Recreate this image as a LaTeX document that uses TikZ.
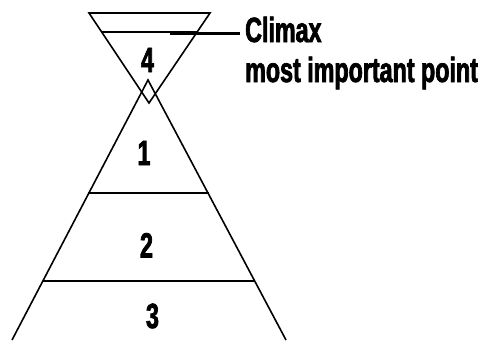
\documentclass[tikz,border=0pt]{standalone}
\usepackage{fontspec}
\newfontfamily\narrowfont[FakeStretch=0.665, FakeBold=2]{Liberation Sans Bold}
\usetikzlibrary{calc}

\begin{document}
\begin{tikzpicture}[
    x=1pt, y=-1pt,
    edge/.style={line width=1.6pt, line join=miter},
    band/.style={line width=2.8pt},
    num/.style={font=\narrowfont\fontsize{35}{40}\selectfont, inner sep=0pt, anchor=base},
    lab/.style={font=\narrowfont\fontsize{35}{40}\selectfont, inner sep=0pt, anchor=base west}
]
    \useasboundingbox (0,0) rectangle (484,340);

    % corners of the two triangles
    \coordinate (apex) at (148,80);
    \coordinate (baseL) at (12,340);
    \coordinate (baseR) at (286,340);
    \coordinate (topL) at (89,13);
    \coordinate (topR) at (210,13);
    \coordinate (tip) at (149,103);

    % pyramid
    \draw[edge] (baseL) -- (apex) -- (baseR);
    \draw[band] (88,193) -- (209,193);
    \draw[band] (43,281) -- (255,281);

    % inverted triangle
    \draw[edge] (topL) -- (topR) -- (tip) -- cycle;
    \draw[band] (101,32) -- (198,32);

    % labels
    \node[num] (n4) at (147.5,72) {4};
    \node[num] (n1) at (144,165) {1};
    \node[num] (n2) at (146.5,257.5) {2};
    \node[num] (n3) at (152.5,328) {3};

    \node[lab] (climax) at (245,42) {Climax};
    \node[lab] (point) at (245,82) {most important point};
    \coordinate (lead) at (170,33.5);
    \draw[band] (lead) -- ($(lead -| climax.west)+(-5,0)$);
\end{tikzpicture}
\end{document}
